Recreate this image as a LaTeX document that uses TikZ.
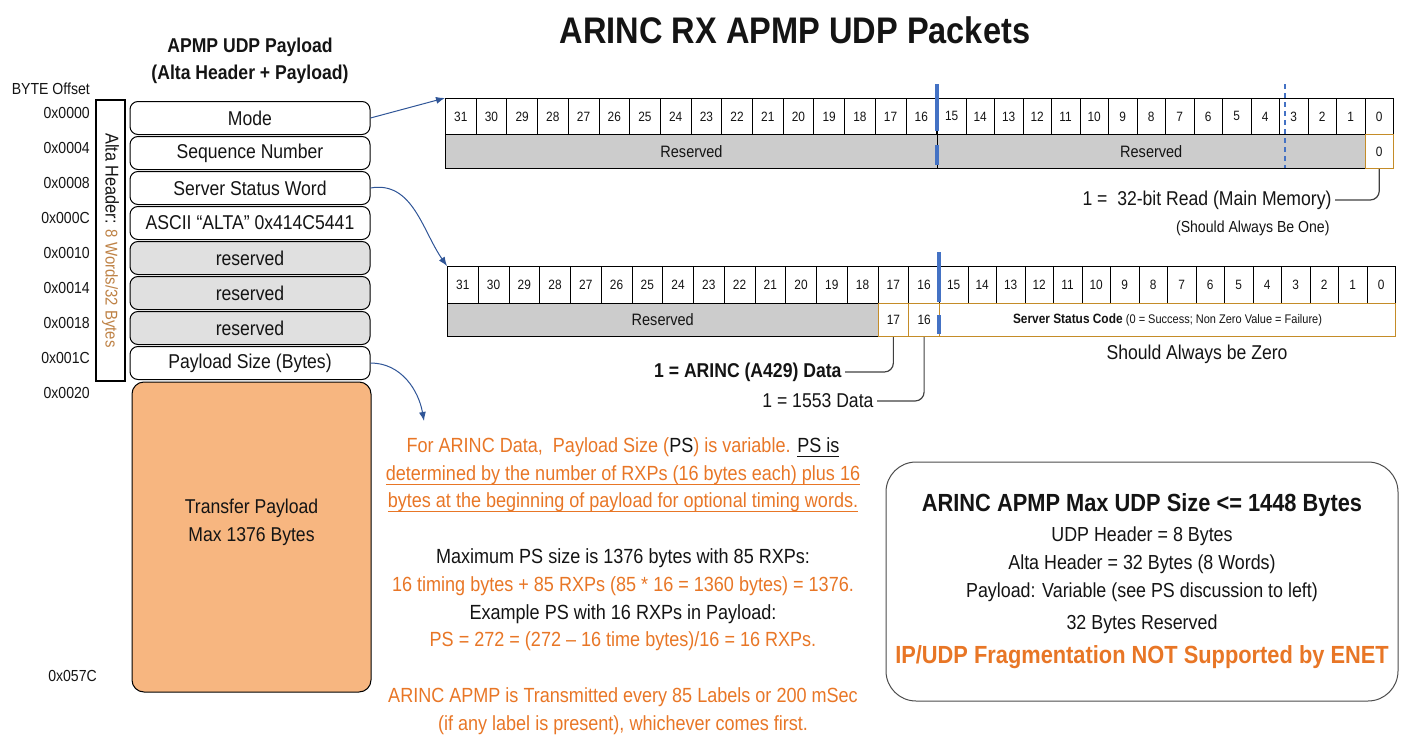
\documentclass[tikz,border=0pt]{standalone}
\usepackage{fontspec}
\setmainfont{Liberation Sans}[FakeStretch=0.88]
\usetikzlibrary{arrows.meta}
\definecolor{orng}{RGB}{232,118,38}
\definecolor{brwn}{RGB}{190,130,70}
\definecolor{payfill}{RGB}{247,182,128}
\definecolor{lgray}{RGB}{224,224,224}
\definecolor{rgray}{RGB}{204,204,204}
\definecolor{oborder}{RGB}{196,140,40}
\definecolor{bmark}{RGB}{68,114,196}
\definecolor{arrblue}{RGB}{47,85,151}
\definecolor{txt}{RGB}{20,20,20}
\newcommand\fsz[2]{\fontsize{#1}{#2}\selectfont}
\newcommand\myuline[1]{\setbox0=\hbox{#1}\rlap{\rule[-4.5pt]{\wd0}{1.1pt}}\box0}
\begin{document}
\begin{tikzpicture}[x=1pt,y=-1pt,
  every node/.style={text=txt},
  hbox/.style={draw=black, line width=1pt, rounded corners=8pt, minimum width=240pt, minimum height=33pt, inner sep=0pt, font=\fsz{20}{24}},
  cell/.style={draw=black, line width=0.8pt, inner sep=0pt, font=\fsz{13.5}{15}, anchor=north west},
  resv/.style={draw=black, line width=1pt, fill=rgray, inner sep=0pt, font=\fsz{16.5}{19}, anchor=north west},
  obox/.style={draw=oborder, line width=1pt, fill=white, inner sep=0pt, font=\fsz{13.5}{15}, anchor=north west},
  offs/.style={anchor=east, font=\fsz{16}{19}, inner sep=0pt},
  arr/.style={draw=arrblue, line width=1pt, -{Latex[length=9pt,width=7pt]}},
  conn/.style={draw=black!75, line width=1.2pt, rounded corners=9pt},
  bluemark/.style={draw=bmark, line width=4pt}
]
\useasboundingbox (0,0) rectangle (1401,739);

% titles
\node[font=\bfseries\fsz{37}{42}] (title) at (795,30) {ARINC RX APMP UDP Packets};
\node[font=\bfseries\fsz{20}{27}, align=center] (ltitle) at (250,61) {APMP UDP Payload\\(Alta Header + Payload)};

% offsets
\node[offs] (boff) at (90,89) {BYTE Offset};
\node[offs] (o0) at (90,113) {0x0000};
\node[offs] (o1) at (90,148) {0x0004};
\node[offs] (o2) at (90,183) {0x0008};
\node[offs] (o3) at (90,218) {0x000C};
\node[offs] (o4) at (90,253) {0x0010};
\node[offs] (o5) at (90,288) {0x0014};
\node[offs] (o6) at (90,323) {0x0018};
\node[offs] (o7) at (90,358) {0x001C};
\node[offs] (o8) at (90,393) {0x0020};
\node[offs] (o9) at (97,676) {0x057C};

% alta header vertical box
\node[draw=black, line width=1.2pt, rotate=-90, minimum width=281pt, minimum height=29pt, inner sep=0pt] (alta) at (110.5,240.5)
  {\fsz{18.5}{22}Alta Header: {\color{brwn}\fsz{17}{20}8 Words/32 Bytes}};

% header boxes
\node[hbox] (mode) at (250,118) {Mode};
\node[hbox] (seq) at (250,153) {Sequence Number};
\node[hbox] (ssw) at (250,188) {Server Status Word};
\node[hbox] (ascii) at (250,223) {ASCII “ALTA” 0x414C5441};
\node[hbox, fill=lgray] (r1) at (250,258) {reserved};
\node[hbox, fill=lgray] (r2) at (250,293) {reserved};
\node[hbox, fill=lgray] (r3) at (250,328) {reserved};
\node[hbox] (ps) at (250,363) {Payload Size (Bytes)};
\node[draw=black, line width=1pt, fill=payfill, rounded corners=12pt, minimum width=239pt, minimum height=310pt] (pay) at (251.5,537) {};
\node[font=\fsz{20}{28}, align=center] (paytxt) at (251.5,522) {Transfer Payload\\Max 1376 Bytes};

% top register
\foreach \i in {0,...,15} {
  \pgfmathtruncatemacro\b{31-\i}
  \node[cell, minimum width=30.7pt, minimum height=36pt] (t\b) at ({445+30.7*\i},98) {\b};
}
\foreach \j in {0,...,15} {
  \pgfmathtruncatemacro\b{15-\j}
  \node[cell, minimum width=28.5pt, minimum height=36pt] (t\b) at ({937+28.5*\j},98) {\b};
}
\node[resv, minimum width=492pt, minimum height=34pt] (tresA) at (445,134) {Reserved};
\node[resv, minimum width=427.5pt, minimum height=34pt] (tresB) at (937,134) {Reserved};
\node[obox, minimum width=28.5pt, minimum height=34pt] (tb0) at (1364.5,134) {0};
\draw[bluemark] (937,84) -- (937,131);
\draw[bluemark] (937,145) -- (937,165);
\draw[draw=bmark, line width=1.2pt, dash pattern=on 5pt off 4pt] (1285,84) -- (1285,168);

% bottom register
\foreach \i in {0,...,15} {
  \pgfmathtruncatemacro\b{31-\i}
  \node[cell, minimum width=30.75pt, minimum height=37pt] (b\b) at ({447+30.75*\i},266) {\b};
}
\foreach \j in {0,...,15} {
  \pgfmathtruncatemacro\b{15-\j}
  \node[cell, minimum width=28.5pt, minimum height=37pt] (b\b) at ({939+28.5*\j},266) {\b};
}
\node[resv, minimum width=430.5pt, minimum height=33pt] (bres) at (447,303) {Reserved};
\node[obox, minimum width=30.75pt, minimum height=33pt] (bb17) at (877.5,303) {17};
\node[obox, minimum width=30.75pt, minimum height=33pt] (bb16) at (908.25,303) {16};
\node[obox, minimum width=456pt, minimum height=33pt] (ssc) at (939,303)
  {\fsz{13.5}{15}\textbf{Server Status Code} \fsz{12.5}{14}(0 = Success; Non Zero Value = Failure)};
\draw[bluemark] (939,252) -- (939,302);
\draw[bluemark] (939,315) -- (939,334);

% annotations
\node[anchor=east, font=\fsz{20}{24}] (rd) at (1335,200) {1 =\ \ 32-bit Read (Main Memory)};
\node[anchor=east, font=\fsz{16}{19}] (sab) at (1333,228) {(Should Always Be One)};
\draw[conn] (rd.east) -| (tb0.south);
\node[anchor=east, font=\bfseries\fsz{20}{24}] (a429) at (845,372) {1 = ARINC (A429) Data};
\draw[conn] (a429.east) -| (bb17.south);
\node[anchor=east, font=\fsz{20}{24}] (d1553) at (877,401) {1 = 1553 Data};
\draw[conn] (d1553.east) -| (bb16.south);
\node[font=\fsz{20}{24}] (saz) at (1197,354) {Should Always be Zero};

% arrows
\coordinate (pstip) at (424,421);
\draw[arr] (mode.east) -- (t31.north west);
\draw[arr] (ssw.east) to[out=10,in=125] (b31.north west);
\draw[arr] (ps.east) to[out=0,in=100] (pstip);

% text block
\node[font=\fsz{20.5}{27.8}, align=center, text=orng] (ptext) at (623,586) {%
  For ARINC Data,\ \ Payload Size ({\color{txt}PS}) is variable. {\color{txt}\myuline{PS is}}\\
  \myuline{determined by the number of RXPs (16 bytes each) plus 16}\\
  \myuline{bytes at the beginning of payload for optional timing words.}\\[27.8pt]
  {\color{txt}Maximum PS size is 1376 bytes with 85 RXPs:}\\
  16 timing bytes + 85 RXPs (85 * 16 = 1360 bytes) = 1376.\\
  {\color{txt}Example PS with 16 RXPs in Payload:}\\
  PS = 272 = (272 – 16 time bytes)/16 = 16 RXPs.\\[27.8pt]
  ARINC APMP is Transmitted every 85 Labels or 200 mSec\\
  (if any label is present), whichever comes first.};

% right box
\node[draw=black!70, line width=1pt, rounded corners=30pt, minimum width=512pt, minimum height=239pt] (rbox) at (1142,581.5) {};
\node[font=\bfseries\fsz{24.8}{29}] (r1t) at (1142,505) {ARINC APMP Max UDP Size <= 1448 Bytes};
\node[font=\fsz{20.3}{24}] (r2t) at (1142,536) {UDP Header = 8 Bytes};
\node[font=\fsz{20.3}{24}] (r3t) at (1142,564) {Alta Header = 32 Bytes (8 Words)};
\node[font=\fsz{20.3}{24}] (r4t) at (1142,592) {Payload: Variable (see PS discussion to left)};
\node[font=\fsz{20.3}{24}] (r5t) at (1142,624) {32 Bytes Reserved};
\node[font=\bfseries\fsz{24.8}{29}, text=orng] (r6t) at (1142,657) {IP/UDP Fragmentation NOT Supported by ENET};
\end{tikzpicture}
\end{document}
